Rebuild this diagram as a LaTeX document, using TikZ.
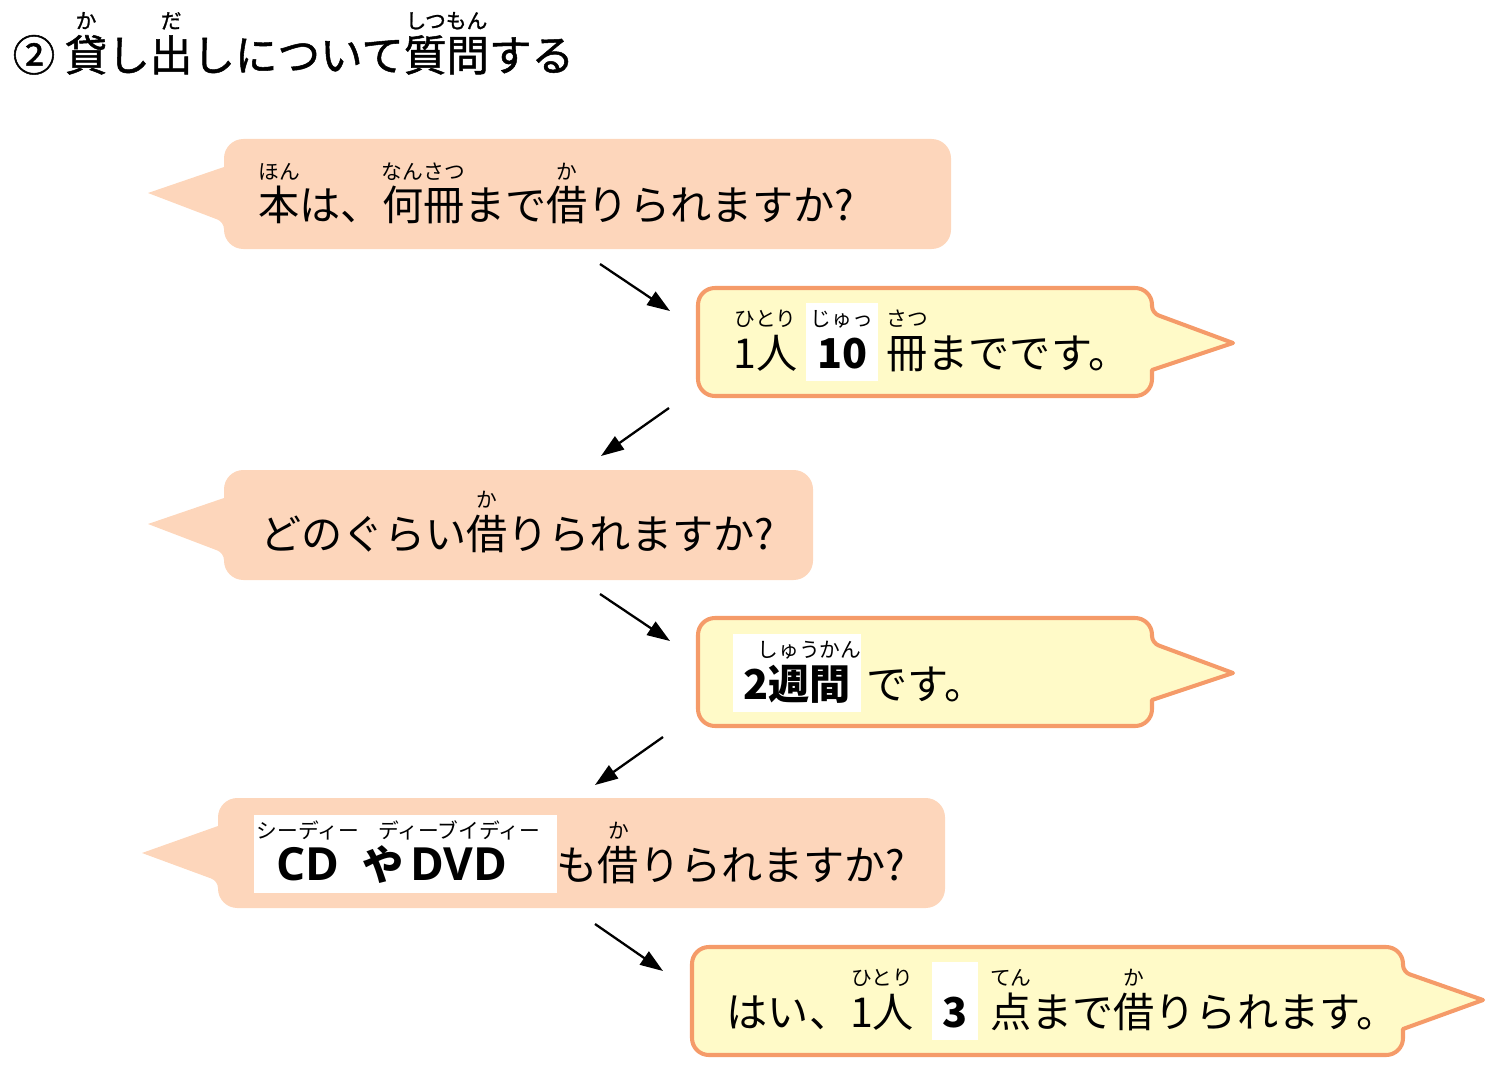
\documentclass[tikz,border=0pt]{standalone}
\usepackage{fontspec}
\setmainfont{Noto Sans CJK JP}
\newfontfamily\titlefont{Noto Sans CJK JP}[FakeBold=1.2]
\newfontfamily\latinfont{Open Sans}
\usetikzlibrary{arrows.meta,positioning}
\definecolor{qpink}{RGB}{253,214,187}
\definecolor{ayellow}{RGB}{255,250,200}
\definecolor{aorange}{RGB}{245,155,105}

\newsavebox{\furibox}
\newcommand{\rubyfont}{\fontsize{5.9pt}{6pt}\selectfont}
\newcommand{\furi}[2]{\sbox{\furibox}{#1}\rlap{\raisebox{1em}{\makebox[\wd\furibox]{\rubyfont #2}}}\usebox{\furibox}}
\newcommand{\hl}[1]{{\setlength{\fboxsep}{0pt}\colorbox{white}{\hspace{3pt}\rule[-3.7pt]{0pt}{22.2pt}#1\hspace{3pt}}}}
\newcommand{\lat}[1]{{\latinfont\bfseries\fontsize{13pt}{14pt}\selectfont #1}}

\begin{document}
\begin{tikzpicture}[x=0.01cm,y=-0.01cm,
  qbubble/.style={fill=qpink,rounded corners=5.5pt},
  abubble/.style={fill=ayellow,draw=aorange,line width=1.15pt,rounded corners=4.8pt,line join=round},
  talk/.style={anchor=base west,inner sep=0pt,font=\fontsize{11.7pt}{14pt}\selectfont},
  flow/.style={-{Triangle[length=6.5pt,width=4.5pt]},line width=0.65pt}]
  \useasboundingbox (0,0) rectangle (1497,1073);
  % title
  \node[anchor=base west,inner sep=0pt,font=\titlefont\fontsize{12.1pt}{15pt}\selectfont] (title) at (12,71)
    {② \furi{貸}{か}し\furi{出}{だ}しについて\furi{質問}{しつもん}する};
  % bubbles
  \path[qbubble] (224,167) -- (224,139) -- (951,139) -- (951,249) -- (224,249) [rounded corners=2pt] -- (224,222) [sharp corners] -- (148,193) -- cycle;
  \path[abubble] (1152,370) -- (1152,396) -- (698,396) -- (698,288) -- (1152,288) [rounded corners=2pt] -- (1152,313) [sharp corners] -- (1233,343) -- cycle;
  \path[qbubble] (224,498) -- (224,470) -- (813,470) -- (813,580) -- (224,580) [rounded corners=2pt] -- (224,553) [sharp corners] -- (148,524) -- cycle;
  \path[abubble] (1152,700) -- (1152,726) -- (698,726) -- (698,618) -- (1152,618) [rounded corners=2pt] -- (1152,643) [sharp corners] -- (1233,673) -- cycle;
  \path[qbubble] (218,826) -- (218,798) -- (945,798) -- (945,908) -- (218,908) [rounded corners=2pt] -- (218,881) [sharp corners] -- (142,853) -- cycle;
  \path[abubble] (1403,1029) -- (1403,1055) -- (692,1055) -- (692,947) -- (1403,947) [rounded corners=2pt] -- (1403,972) [sharp corners] -- (1483,1000) -- cycle;
  % texts
  \node[talk] (q1) at (258,221) {\furi{本}{ほん}は、\furi{何冊}{なんさつ}まで\furi{借}{か}りられますか?};
  \node[talk] (a1) at (733,368) {\furi{1人}{ひとり}\hspace{2.5pt}\hl{\furi{\textbf{10}}{じゅっ}}\hspace{2.5pt}\furi{冊}{さつ}までです。};
  \node[talk] (q2) at (260,549) {どのぐらい\furi{借}{か}りられますか?};
  \node[talk] (a2) at (732,699) {\hl{\textbf{2}\furi{\textbf{週間}}{しゅうかん}}\hspace{1.5pt}です。};
  \node[talk] (q3) at (253,880) {\hl{\hspace{3.5pt}\furi{\lat{CD}}{シーディー}\hspace{6.5pt}\textbf{や}\hspace{2pt}\furi{\lat{DVD}}{ディーブイディー}\hspace{11pt}}も\furi{借}{か}りられますか?};
  \node[talk] (a3) at (726,1027) {はい、\furi{1人}{ひとり}\hspace{5pt}\hl{\textbf{3}}\hspace{3.5pt}\furi{点}{てん}まで\furi{借}{か}りられます。};
  % arrows
  \coordinate (S1) at (600,264); \coordinate (E1) at (670,311);
  \coordinate (S2) at (669,408); \coordinate (E2) at (601,456);
  \coordinate (S3) at (600,594); \coordinate (E3) at (670,641);
  \coordinate (S4) at (663,737); \coordinate (E4) at (595,785);
  \coordinate (S5) at (595,924); \coordinate (E5) at (663,971);
  \draw[flow] (S1) -- (E1);
  \draw[flow] (S2) -- (E2);
  \draw[flow] (S3) -- (E3);
  \draw[flow] (S4) -- (E4);
  \draw[flow] (S5) -- (E5);
\end{tikzpicture}
\end{document}
